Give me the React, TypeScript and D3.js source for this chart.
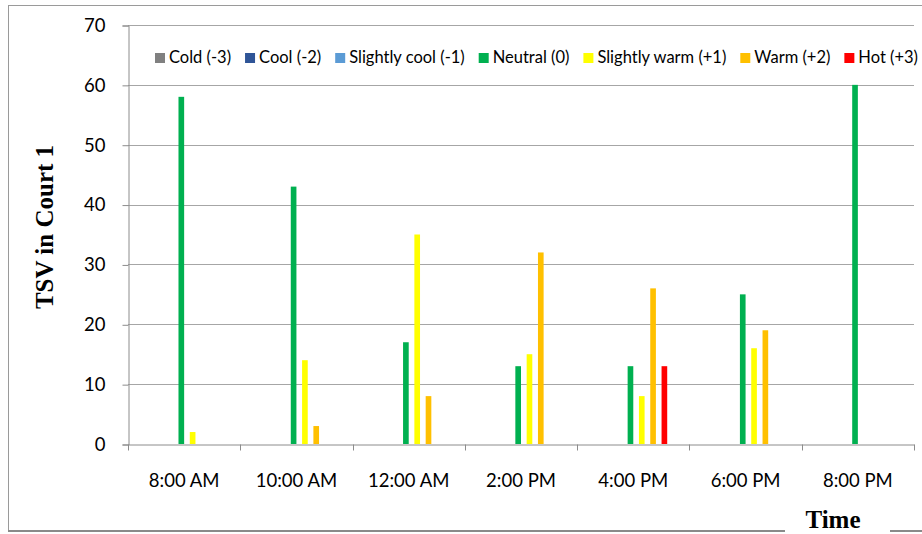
import React, { useEffect, useRef } from "react";
import * as d3 from "d3";

const categories = ["8:00 AM", "10:00 AM", "12:00 AM", "2:00 PM", "4:00 PM", "6:00 PM", "8:00 PM"];
const seriesNames = ["Cold (-3)", "Cool (-2)", "Slightly cool (-1)", "Neutral (0)", "Slightly warm (+1)", "Warm (+2)", "Hot (+3)"];
const seriesColors = ["#808080", "#2F5597", "#5B9BD5", "#00B050", "#FFFF00", "#FFC000", "#FF0000"];
const cold = [0, 0, 0, 0, 0, 0, 0];
const cool = [0, 0, 0, 0, 0, 0, 0];
const slightlyCool = [0, 0, 0, 0, 0, 0, 0];
const neutral = [58, 43, 17, 13, 13, 25, 60];
const slightlyWarm = [2, 14, 35, 15, 8, 16, 0];
const warm = [0, 3, 8, 32, 26, 19, 0];
const hot = [0, 0, 0, 0, 13, 0, 0];
const yTicks = [0, 10, 20, 30, 40, 50, 60, 70];
const yTitle = "TSV in Court 1";
const xTitle = "Time";

const W = 922;
const H = 534;
const FONT = "Lato, 'Open Sans', sans-serif";
const SERIF = "'Liberation Serif', 'Times New Roman', serif";

export default function App() {
  const ref = useRef<SVGSVGElement>(null);

  useEffect(() => {
    const svg = d3.select(ref.current);
    svg.selectAll("*").remove();
    const values = [cold, cool, slightlyCool, neutral, slightlyWarm, warm, hot];

    const left = 128, right = 914, top = 25, bottom = 444;

    // frame
    svg.append("rect").attr("x", 8.5).attr("y", 5.5).attr("width", W).attr("height", 525.5)
      .attr("fill", "#fff").attr("stroke", "#9a9a9a").attr("stroke-width", 1);
    svg.append("line").attr("x1", 8).attr("x2", W).attr("y1", 531).attr("y2", 531)
      .attr("stroke", "#8a8a8a").attr("stroke-width", 2);

    const y = d3.scaleLinear().domain([0, 70]).range([bottom, top]);
    const x0 = d3.scaleBand<string>().domain(categories).range([left, right]).padding(0);
    const groupW = x0.bandwidth() * 0.705;
    const x1 = d3.scaleBand<string>().domain(seriesNames).range([0, groupW]).padding(0);
    const barW = x1.bandwidth() * 0.5;
    const off = (x0.bandwidth() - groupW) / 2;

    // gridlines
    svg.append("g").selectAll("line").data(yTicks.filter((t) => t > 0)).join("line")
      .attr("x1", left).attr("x2", right)
      .attr("y1", (d) => Math.round(y(d)) + 0.5).attr("y2", (d) => Math.round(y(d)) + 0.5)
      .attr("stroke", "#a6a6a6").attr("stroke-width", 1);

    // y axis
    const yAxis = d3.axisLeft(y).tickValues(yTicks).tickSize(6).tickPadding(17).tickFormat(d3.format("d"));
    const gy = svg.append("g").attr("transform", `translate(${left + 0.5},0.5)`).call(yAxis);
    gy.select(".domain").attr("stroke", "#8c8c8c");
    gy.selectAll(".tick line").attr("stroke", "#8c8c8c");
    gy.selectAll(".tick text").attr("font-family", FONT).attr("font-size", 18.5).attr("fill", "#000");

    // x axis
    const xAxis = d3.axisBottom(x0).tickSize(0).tickPadding(29);
    const gx = svg.append("g").attr("transform", `translate(0,${bottom + 0.5})`).call(xAxis);
    gx.select(".domain").attr("stroke", "#8c8c8c");
    gx.selectAll(".tick text").attr("font-family", FONT).attr("font-size", 18.5).attr("fill", "#000");
    // category boundary ticks
    const bounds = categories.map((c) => x0(c) as number).concat([right]);
    gx.append("g").selectAll("line").data(bounds).join("line")
      .attr("x1", (d) => Math.round(d) + 0.5).attr("x2", (d) => Math.round(d) + 0.5)
      .attr("y1", 0).attr("y2", 6).attr("stroke", "#8c8c8c");

    // bars
    const bars = svg.append("g");
    values.forEach((arr, si) => {
      bars.append("g").selectAll("rect").data(arr.map((v, ci) => ({ v, c: categories[ci] })).filter((d) => d.v > 0))
        .join("rect")
        .attr("x", (d) => (x0(d.c) as number) + off + (x1(seriesNames[si]) as number))
        .attr("width", barW)
        .attr("y", (d) => y(d.v))
        .attr("height", (d) => y(0) - y(d.v))
        .attr("fill", seriesColors[si]);
    });

    // legend
    const lg = svg.append("g");
    const items = seriesNames.map((n, i) => {
      const g = lg.append("g");
      g.append("rect").attr("width", 10).attr("height", 10).attr("y", -10).attr("fill", seriesColors[i]);
      const t = g.append("text").attr("x", 14).attr("font-family", FONT).attr("font-size", 16.5).attr("fill", "#000").text(n);
      return { g, w: (t.node() as SVGTextElement).getComputedTextLength() };
    });
    const lx0 = 155, lx1 = 918;
    const totalText = items.reduce((s, it) => s + it.w + 14, 0);
    const gap = (lx1 - lx0 - totalText) / (items.length - 1);
    let cx = lx0;
    items.forEach((it) => {
      it.g.attr("transform", `translate(${cx},63)`);
      cx += it.w + 14 + gap;
    });

    // y title
    svg.append("text").attr("transform", `translate(53,227) rotate(-90)`)
      .attr("text-anchor", "middle").attr("font-family", SERIF)
      .attr("font-weight", "bold").attr("font-size", 25).attr("fill", "#000").text(yTitle);

    // x title with white box
    svg.append("rect").attr("x", 785).attr("y", 503).attr("width", 105).attr("height", 30).attr("fill", "#fff");
    svg.append("text").attr("x", 833).attr("y", 528).attr("text-anchor", "middle")
      .attr("font-family", SERIF)
      .attr("font-weight", "bold").attr("font-size", 25).attr("fill", "#000").text(xTitle);
  }, []);

  return (
    <svg ref={ref} width={W} height={H} style={{ position: "fixed", left: 0, top: 0, display: "block", background: "#fff" }} />
  );
}
